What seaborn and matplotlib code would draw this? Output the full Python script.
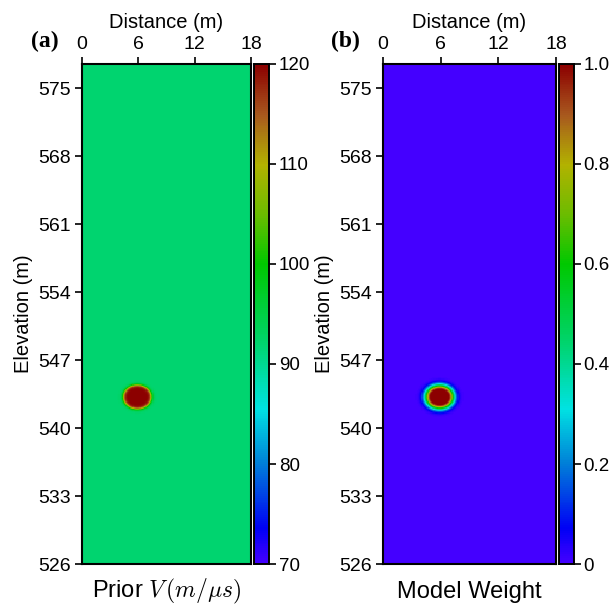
#!/usr/bin/env python3
"""
Prior velocity model and model weight for a single buried anomaly.
"""

import matplotlib
matplotlib.use('Agg')
import matplotlib.pyplot as plt
import numpy as np
import seaborn as sns
from matplotlib.colors import LinearSegmentedColormap

# model grid (cell centres, 0.125 m cells)
distance = np.linspace(0.0625, 17.9375, 144)
elevation = np.linspace(577.4375, 526.0625, 412)  # top row first

# anomaly
background_velocity = 92.0
anomaly_velocity = 120.0
anomaly_center = (5.9, 543.2)
anomaly_radius = (1.5, 1.25)
weight_core = 0.6
weight_falloff = 0.45

# axis ticks and colour limits
x_ticks = [0, 6, 12, 18]
y_ticks = [526, 533, 540, 547, 554, 561, 568, 575]
v_ticks = [70, 80, 90, 100, 110, 120]
v_labels = ['70', '80', '90', '100', '110', '120']
w_ticks = [0, 0.2, 0.4, 0.6, 0.8, 1.0]
w_labels = ['0', '0.2', '0.4', '0.6', '0.8', '1.0']

cmap_stops = [
    (0.00, '#4400ff'),
    (0.07, '#0000f5'),
    (0.20, '#0080d8'),
    (0.31, '#00e2e2'),
    (0.44, '#00d46e'),
    (0.60, '#00c800'),
    (0.70, '#6cbc00'),
    (0.80, '#b2b200'),
    (0.90, '#a8581e'),
    (1.00, '#8c0000'),
]


def build_fields():
    xx, yy = np.meshgrid(distance, elevation)
    rho = np.sqrt(((xx - anomaly_center[0]) / anomaly_radius[0]) ** 2 +
                  ((yy - anomaly_center[1]) / anomaly_radius[1]) ** 2)
    step = 1.0 / (1.0 + np.exp((rho - 1.0) / 0.07))
    velocity = background_velocity + (anomaly_velocity - background_velocity) * step
    weight = np.exp(-(np.clip(rho - weight_core, 0, None) / weight_falloff) ** 2)
    return velocity, weight


def style_panel(ax, cax, cticks, clabels, title, tag, fig):
    dx = distance[1] - distance[0]
    dy = elevation[0] - elevation[1]
    x0 = distance[0] - dx / 2
    ytop = elevation[0] + dy / 2
    ax.set_xticks([(v - x0) / dx for v in x_ticks])
    ax.set_xticklabels([str(v) for v in x_ticks], rotation=0)
    ax.set_yticks([(ytop - v) / dy for v in y_ticks])
    ax.set_yticklabels([str(v) for v in y_ticks], rotation=0)
    ax.xaxis.tick_top()
    ax.xaxis.set_label_position('top')
    ax.set_xlabel('Distance (m)', fontsize=14.5, labelpad=6)
    ax.set_ylabel('Elevation (m)', fontsize=14.5, labelpad=4)
    ax.tick_params(axis='both', direction='out', length=5, width=1.2,
                   labelsize=14, colors='black', pad=3)
    for s in ax.spines.values():
        s.set_visible(True)
        s.set_linewidth(1.5)
        s.set_color('black')

    cax.set_yticks(cticks)
    cax.set_yticklabels(clabels)
    cax.tick_params(direction='out', length=5, width=1.2, labelsize=13.5,
                    colors='black', pad=2)
    for s in cax.spines.values():
        s.set_visible(True)
        s.set_linewidth(1.2)
        s.set_color('black')

    ax.text(0.5, -0.055, title, transform=ax.transAxes, ha='center', va='center',
            fontsize=17, color='black')
    pos = ax.get_position()
    fig.text(pos.x0 - 0.061, 0.931, tag, ha='center', va='center', fontsize=17,
             fontweight='bold', family='Liberation Serif', color='black')


def main():
    sns.set_theme(style='ticks')
    plt.rcParams['font.family'] = ['Liberation Sans', 'DejaVu Sans']
    plt.rcParams['mathtext.fontset'] = 'cm'
    plt.rcParams['text.color'] = 'black'
    plt.rcParams['axes.labelcolor'] = 'black'

    velocity, weight = build_fields()
    cmap = LinearSegmentedColormap.from_list('vel', cmap_stops)

    fig = plt.figure(figsize=(6.09, 6.06), dpi=100)
    ax_a = fig.add_axes([0.1346, 0.0693, 0.2775, 0.8251])
    cax_a = fig.add_axes([0.4171, 0.0693, 0.0246, 0.8251])
    ax_b = fig.add_axes([0.6289, 0.0693, 0.2841, 0.8251])
    cax_b = fig.add_axes([0.9179, 0.0693, 0.0246, 0.8251])

    sns.heatmap(velocity, ax=ax_a, cbar_ax=cax_a, cmap=cmap, vmin=70, vmax=120,
                xticklabels=False, yticklabels=False, rasterized=True)
    sns.heatmap(weight, ax=ax_b, cbar_ax=cax_b, cmap=cmap, vmin=0, vmax=1,
                xticklabels=False, yticklabels=False, rasterized=True)

    style_panel(ax_a, cax_a, v_ticks, v_labels, r'Prior $V\,(m/\mu s)$', '(a)', fig)
    style_panel(ax_b, cax_b, w_ticks, w_labels, 'Model Weight', '(b)', fig)

    fig.savefig('out.png', dpi=100)


if __name__ == '__main__':
    main()
